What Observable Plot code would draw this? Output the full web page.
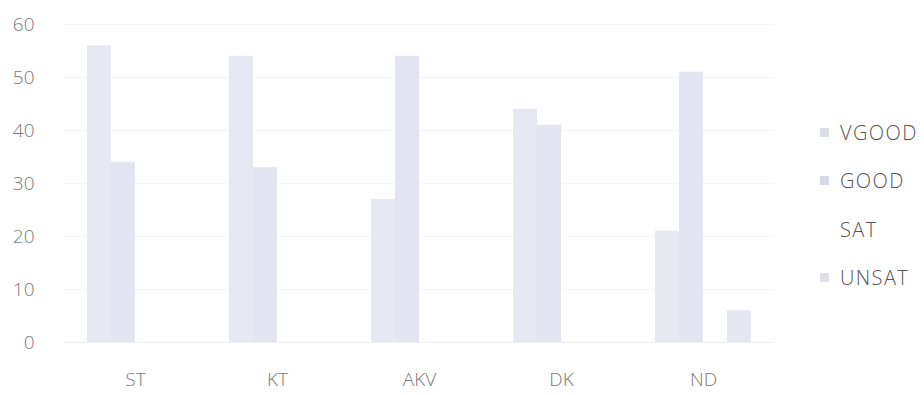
<!DOCTYPE html>
<html><head><meta charset="utf-8">
<script src="https://cdn.jsdelivr.net/npm/d3@7"></script>
<script src="https://cdn.jsdelivr.net/npm/@observablehq/plot@0.6"></script>
<style>
body{margin:0;background:#fff;}
#wrap{position:relative;width:924px;height:395px;font-family:"Open Sans",sans-serif;}
#legend{position:absolute;left:820px;top:108px;}
.item{display:flex;align-items:center;height:48.5px;}
.sw{width:9px;height:9px;margin-right:11px;}
.lab{font-size:20px;color:#555;letter-spacing:1.4px;font-weight:300;}
svg text{font-weight:300;font-size:19px;fill:#7a7a7a;}
</style>
</head><body>
<div id="wrap"><div id="legend"></div></div>
<script>
const groups = ["ST", "KT", "AKV", "DK", "ND"];
const series = ["VGOOD", "GOOD", "SAT", "UNSAT"];
const vgood = [56, 54, 27, 44, 21];
const good  = [34, 33, 54, 41, 51];
const sat   = [0, 0, 0, 0, 0];
const unsat = [0, 0, 0, 0, 6];
const yTicks = [0, 10, 20, 30, 40, 50, 60];
const colors = ["#e6e8f2", "#e3e5f0", "#ffffff", "#e5e7f1"];
const swatchColors = ["#dcdde5", "#d9dae3", "#ffffff", "#dfe0e8"];

const valuesBySeries = [vgood, good, sat, unsat];
const data = [];
groups.forEach((g, i) => series.forEach((s, j) => data.push({group: g, series: s, value: valuesBySeries[j][i]})));

const chart = Plot.plot({
  width: 924, height: 395,
  marginTop: 24, marginBottom: 53, marginLeft: 62, marginRight: 149,
  style: {fontFamily: "'Open Sans', sans-serif", fontSize: "19px", color: "#777", background: "white"},
  fx: {domain: groups, paddingInner: 0, paddingOuter: 0, label: null, axis: "bottom", tickSize: 0, tickPadding: 30},
  x: {domain: series, paddingInner: 0, paddingOuter: 0.86, axis: null},
  y: {domain: [0, 60], ticks: yTicks, label: null, tickSize: 0, tickPadding: 30},
  color: {domain: series, range: colors},
  marks: [
    Plot.ruleY(yTicks.filter(d => d > 0), {stroke: "#f6f6f8"}),
    Plot.ruleY([0], {stroke: "#f0f0f3"}),
    Plot.barY(data, {fx: "group", x: "series", y: "value", fill: "series"})
  ]
});
document.getElementById("wrap").prepend(chart);

const legend = document.getElementById("legend");
series.forEach((s, j) => {
  const it = document.createElement("div"); it.className = "item";
  const sw = document.createElement("div"); sw.className = "sw"; sw.style.background = swatchColors[j];
  const lb = document.createElement("span"); lb.className = "lab"; lb.textContent = s;
  it.append(sw, lb); legend.append(it);
});
</script>
</body></html>
